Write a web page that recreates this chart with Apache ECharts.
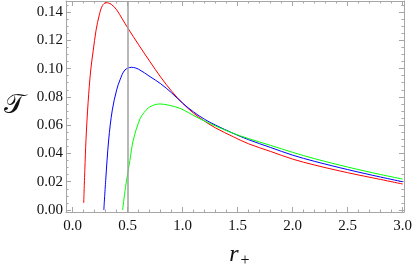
<!DOCTYPE html>
<html><head><meta charset="utf-8">
<script src="https://cdn.jsdelivr.net/npm/echarts@6/dist/echarts.min.js"></script>
<style>html,body{margin:0;padding:0;background:#fff}#c{width:415px;height:270px}</style>
</head><body><div id="c"></div>
<script>
// ---- data ----
const xMajorTicks = [0, 0.5, 1, 1.5, 2, 2.5, 3];
const yMajorTicks = [0, 0.02, 0.04, 0.06, 0.08, 0.10, 0.12, 0.14];
const verticalMarkerX = 0.5;

const redCurve = [
  [0.100,0.005],[0.110,0.028],[0.121,0.050],[0.140,0.076],[0.164,0.099],[0.187,0.113],
  [0.212,0.127],[0.242,0.138],[0.270,0.1445],[0.303,0.1466],[0.350,0.1455],[0.400,0.1415],
  [0.450,0.1352],[0.500,0.1288],[0.600,0.1168],[0.700,0.1052],[0.800,0.0940],[0.900,0.0840],
  [1.000,0.0755],[1.100,0.0684],[1.200,0.0628],[1.300,0.0580],[1.460,0.0518],[1.600,0.0468],
  [1.800,0.0414],[2.000,0.0360],[2.200,0.0318],[2.500,0.0264],[2.800,0.0216],[3.000,0.0184]
];
const blueCurve = [
  [0.283,0.000],[0.300,0.021],[0.327,0.0495],[0.360,0.0707],[0.400,0.085],[0.430,0.092],
  [0.475,0.099],[0.536,0.1009],[0.600,0.0995],[0.703,0.0943],[0.800,0.0893],[0.900,0.0828],
  [1.000,0.0755],[1.100,0.0693],[1.200,0.0641],[1.300,0.0600],[1.460,0.0542],[1.600,0.0497],
  [1.800,0.0442],[2.000,0.0388],[2.200,0.0344],[2.500,0.0286],[2.800,0.0233],[3.000,0.0200]
];
const greenCurve = [
  [0.454,0.000],[0.480,0.016],[0.520,0.035],[0.551,0.0495],[0.612,0.0645],[0.650,0.069],
  [0.703,0.073],[0.794,0.075],[0.880,0.0740],[0.975,0.0719],[1.050,0.069],[1.157,0.0645],
  [1.300,0.0594],[1.460,0.0542],[1.600,0.0505],[1.800,0.0457],[2.000,0.0408],[2.200,0.0363],
  [2.500,0.0304],[2.800,0.0251],[3.000,0.0219]
];

// minor tick positions (axis decoration, not data)
const xMinorTicks = []; for (let i = 0; i <= 30; i++) xMinorTicks.push(+(i*0.1).toFixed(2));
const yMinorTicks = []; for (let i = 0; i <= 29; i++) yMinorTicks.push(+(i*0.005).toFixed(4));

const X_MIN = -0.061, X_MAX = 3.0117, Y_MIN = -0.0014, Y_MAX = 0.1478;
const FRAME = '#a6a6a6';
const LABEL_FONT = {fontFamily: 'Liberation Serif', fontSize: 15, color: '#111'};

function axis(kind, position, ticks, len, withLine, labels, fmt) {
  return {
    type: 'value', position, min: kind === 'x' ? X_MIN : Y_MIN, max: kind === 'x' ? X_MAX : Y_MAX,
    axisLine: {show: withLine, onZero: false, lineStyle: {color: FRAME, width: 1}},
    axisTick: {show: true, inside: true, length: len, customValues: ticks, lineStyle: {color: FRAME, width: 1}},
    axisLabel: labels ? Object.assign({show: true, customValues: ticks, formatter: fmt,
      margin: kind === 'x' ? 7 : 3}, LABEL_FONT) : {show: false},
    splitLine: {show: false}, minorTick: {show: false}
  };
}
const fx = v => v.toFixed(1), fy = v => v.toFixed(2);

function curve(data, color) {
  return {type: 'line', data, showSymbol: false, smooth: 0.35,
    lineStyle: {color, width: 1}, itemStyle: {color}};
}

const chart = echarts.init(document.getElementById('c'), null, {renderer: 'canvas'});
const red = curve(redCurve, '#ff0000');
red.markLine = {silent: true, symbol: 'none', label: {show: false},
  lineStyle: {color: '#a0a0a0', width: 1.5, type: 'solid'}, data: [{xAxis: verticalMarkerX}]};
chart.setOption({
  animation: false,
  backgroundColor: '#fff',
  grid: {left: 66, right: 11, top: 1, bottom: 58, containLabel: false},
  xAxis: [
    axis('x', 'bottom', xMajorTicks, 5, true, true, fx),
    axis('x', 'bottom', xMinorTicks, 2.5, false, false),
    axis('x', 'top', xMajorTicks, 5, true, false),
    axis('x', 'top', xMinorTicks, 2.5, false, false)
  ],
  yAxis: [
    axis('y', 'left', yMajorTicks, 5, true, true, fy),
    axis('y', 'left', yMinorTicks, 2.5, false, false),
    axis('y', 'right', yMajorTicks, 5, true, false),
    axis('y', 'right', yMinorTicks, 2.5, false, false)
  ],
  series: [red, curve(blueCurve, '#0000ff'), curve(greenCurve, '#00ff00')],
  graphic: [
    {type: 'text', x: 14.5, y: 106, style: {text: '𝒯', align: 'center', verticalAlign: 'middle',
      fontFamily: 'DejaVu Serif, DejaVu Sans, serif', fontSize: 27, fill: '#111'}},
    {type: 'text', x: 234, y: 255, style: {text: 'r', align: 'center', verticalAlign: 'middle',
      fontFamily: 'Liberation Serif', fontStyle: 'italic', fontSize: 24, fill: '#111'}},
    {type: 'text', x: 245, y: 260.5, style: {text: '+', align: 'center', verticalAlign: 'middle',
      fontFamily: 'Liberation Serif', fontSize: 16, fill: '#111'}}
  ]
});
</script>
</body></html>
